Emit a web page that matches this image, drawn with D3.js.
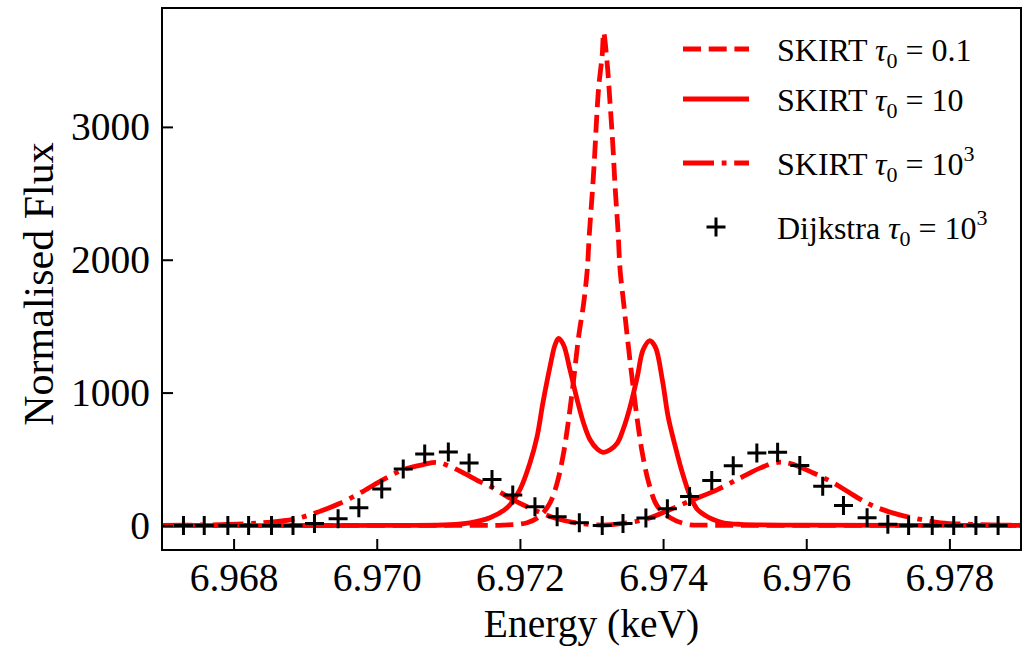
<!DOCTYPE html>
<html>
<head>
<meta charset="utf-8">
<script src="https://cdn.jsdelivr.net/npm/d3@7"></script>
<style>
  body { margin: 0; background: #fff; }
  svg { display: block; font-family: "Liberation Serif", "Times New Roman", serif; }
</style>
</head>
<body>
<svg id="chart" width="1025" height="647"></svg>
<script>
// SKIRT tau0 = 0.1 (dashed)
const tau01Energy = [6.96699, 6.96900, 6.97100, 6.97144, 6.97176, 6.97210, 6.97228, 6.97242, 6.97252, 6.97261,
  6.97268, 6.97275, 6.97282, 6.97289, 6.97294, 6.97297, 6.97301, 6.97304, 6.97307, 6.97310,
  6.97315, 6.97317, 6.97322, 6.97326, 6.97330, 6.97333, 6.97337, 6.97340, 6.97345, 6.97350,
  6.97357, 6.97364, 6.97371, 6.97380, 6.97392, 6.97410, 6.97434, 6.97466, 6.97600, 6.97901];
const tau01Flux = [0, 0, 0, 0, 2, 20, 70, 170, 320, 545,
  795, 1095, 1420, 1670, 1920, 2196, 2496, 2746, 3046, 3296,
  3546, 3710, 3471, 3171, 2846, 2546, 2221, 1920, 1670, 1420,
  1095, 795, 545, 320, 145, 58, 8, 2, 0, 0];

// SKIRT tau0 = 10 (solid)
const tau10Energy = [6.96699, 6.97032, 6.97102, 6.97130, 6.97158, 6.97182, 6.97200, 6.97214, 6.97224, 6.97232,
  6.97242, 6.97249, 6.97254, 6.97261, 6.97270, 6.97280, 6.97289, 6.97298, 6.97308, 6.97316,
  6.97326, 6.97336, 6.97344, 6.97354, 6.97364, 6.97372, 6.97381, 6.97389, 6.97399, 6.97407,
  6.97417, 6.97427, 6.97438, 6.97448, 6.97459, 6.97470, 6.97484, 6.97508, 6.97592, 6.97901];
const tau10Flux = [0, 0, 5, 20, 58, 133, 270, 470, 670, 920,
  1195, 1358, 1408, 1358, 1170, 945, 770, 645, 575, 550,
  570, 620, 720, 895, 1120, 1320, 1390, 1345, 1095, 820,
  595, 395, 220, 120, 75, 45, 20, 8, 2, 0];

// SKIRT tau0 = 10^3 (dash-dot)
const tau1e3Energy = [6.96699, 6.96752, 6.96794, 6.96822, 6.96846, 6.96883, 6.96916, 6.96948, 6.96981, 6.97009,
  6.97037, 6.97065, 6.97084, 6.97102, 6.97123, 6.97144, 6.97158, 6.97190, 6.97224, 6.97252,
  6.97284, 6.97316, 6.97344, 6.97378, 6.97410, 6.97438, 6.97476, 6.97508, 6.97536, 6.97560,
  6.97578, 6.97610, 6.97638, 6.97672, 6.97694, 6.97728, 6.97760, 6.97788, 6.97830, 6.97872, 6.97901];
const tau1e3Flux = [0, 3, 8, 14, 22, 45, 97, 165, 257, 345,
  420, 458, 475, 445, 390, 330, 295, 195, 107, 50,
  15, 3, 15, 50, 120, 185, 270, 358, 433, 475,
  465, 395, 320, 208, 145, 83, 45, 20, 8, 3, 1];

// Dijkstra tau0 = 10^3 (markers)
const dijkstraEnergy = [6.96730, 6.96759, 6.96792, 6.96821, 6.96853, 6.96883, 6.96913, 6.96946, 6.96975, 6.97007,
  6.97037, 6.97067, 6.97100, 6.97129, 6.97161, 6.97190, 6.97221, 6.97252, 6.97283, 6.97315,
  6.97344, 6.97376, 6.97406, 6.97437, 6.97468, 6.97498, 6.97531, 6.97560, 6.97591, 6.97623,
  6.97652, 6.97685, 6.97714, 6.97743, 6.97776, 6.97806, 6.97837, 6.97868];
const dijkstraFlux = [0, 0, 0, 0, 0, 0, 15, 50, 133, 275,
  425, 538, 553, 470, 345, 229, 140, 65, 20, 0,
  15, 56, 125, 218, 338, 450, 545, 550, 452, 295,
  150, 58, 8, 0, 0, 0, 0, 0];

const xTicks = [6.968, 6.970, 6.972, 6.974, 6.976, 6.978];
const yTicks = [0, 1000, 2000, 3000];

const svg = d3.select('#chart');
const plotLeft = 162, plotRight = 1021, plotTop = 8, plotBottom = 550;
const lw = 4.8;

const x = d3.scaleLinear().domain([6.967, 6.979]).range([plotLeft, plotRight]);
const y = d3.scaleLinear().domain([-185, 3895]).range([plotBottom, plotTop]);

svg.append('defs').append('clipPath').attr('id', 'plot-clip')
  .append('rect')
  .attr('x', plotLeft).attr('y', plotTop)
  .attr('width', plotRight - plotLeft).attr('height', plotBottom - plotTop);

const plot = svg.append('g').attr('clip-path', 'url(#plot-clip)');

const line = d3.line()
  .x(d => x(d[0]))
  .y(d => y(d[1]))
  .curve(d3.curveCatmullRom.alpha(0.5));

const series = [
  { e: tau01Energy, f: tau01Flux, dash: '18,7.7' },
  { e: tau10Energy, f: tau10Flux, dash: null },
  { e: tau1e3Energy, f: tau1e3Flux, dash: '31,7.7,4.8,7.7' }
];

series.forEach(s => {
  plot.append('path')
    .datum(d3.zip(s.e, s.f))
    .attr('d', line)
    .attr('fill', 'none')
    .attr('stroke', '#ff0000')
    .attr('stroke-width', lw)
    .attr('stroke-dasharray', s.dash);
});

const plusPath = 'M-9.5,0H9.5M0,-9.5V9.5';
plot.selectAll('.dijkstra')
  .data(d3.zip(dijkstraEnergy, dijkstraFlux))
  .join('path')
  .attr('class', 'dijkstra')
  .attr('transform', d => `translate(${x(d[0])},${y(d[1])})`)
  .attr('d', plusPath)
  .attr('stroke', '#000')
  .attr('stroke-width', 3)
  .attr('fill', 'none');

// axes, ticks pointing inward
const xAxis = svg.append('g')
  .attr('transform', `translate(0,${plotBottom})`)
  .call(d3.axisBottom(x).tickValues(xTicks).tickSize(-11).tickPadding(13).tickFormat(d3.format('.3f')));
const yAxis = svg.append('g')
  .attr('transform', `translate(${plotLeft},0)`)
  .call(d3.axisLeft(y).tickValues(yTicks).tickSize(-11).tickPadding(12).tickFormat(d3.format('d')));

[xAxis, yAxis].forEach(g => {
  g.select('.domain').remove();
  g.selectAll('line').attr('stroke', '#000').attr('stroke-width', 2);
  g.selectAll('text')
    .attr('fill', '#000')
    .style('font-family', '"Liberation Serif", "Times New Roman", serif')
    .style('font-size', '39.5px');
});

svg.append('rect')
  .attr('x', plotLeft).attr('y', plotTop)
  .attr('width', plotRight - plotLeft).attr('height', plotBottom - plotTop)
  .attr('fill', 'none')
  .attr('stroke', '#000')
  .attr('stroke-width', 2);

svg.append('text')
  .attr('x', (plotLeft + plotRight) / 2)
  .attr('y', 637)
  .attr('text-anchor', 'middle')
  .style('font-size', '39.5px')
  .text('Energy (keV)');

svg.append('text')
  .attr('transform', 'translate(53,284) rotate(-90)')
  .attr('text-anchor', 'middle')
  .style('font-size', '42px')
  .text('Normalised Flux');

// legend
const legendItems = [
  { label: 'SKIRT ', value: '0.1', sup: null, kind: 'dash', dash: '18,7.7', y: 49 },
  { label: 'SKIRT ', value: '10', sup: null, kind: 'line', dash: null, y: 99 },
  { label: 'SKIRT ', value: '10', sup: '3', kind: 'line', dash: '31,7.7,4.8,7.7', y: 163 },
  { label: 'Dijkstra ', value: '10', sup: '3', kind: 'marker', dash: null, y: 227 }
];

const legend = svg.append('g');
legendItems.forEach(item => {
  if (item.kind === 'marker') {
    legend.append('path')
      .attr('transform', `translate(716,${item.y})`)
      .attr('d', plusPath)
      .attr('stroke', '#000')
      .attr('stroke-width', 3);
  } else {
    legend.append('line')
      .attr('x1', 683).attr('x2', 749)
      .attr('y1', item.y).attr('y2', item.y)
      .attr('stroke', '#ff0000')
      .attr('stroke-width', lw)
      .attr('stroke-dasharray', item.dash);
  }
  const t = legend.append('text')
    .attr('x', 777)
    .attr('y', item.y + 12)
    .style('font-size', '32px');
  t.append('tspan').text(item.label);
  t.append('tspan').style('font-style', 'italic').text('τ');
  t.append('tspan').attr('dy', 7).style('font-size', '22px').text('0');
  t.append('tspan').attr('dy', -7).text(' = ' + item.value);
  if (item.sup) {
    t.append('tspan').attr('dy', -14).style('font-size', '22px').text(item.sup);
  }
});
</script>
</body>
</html>
